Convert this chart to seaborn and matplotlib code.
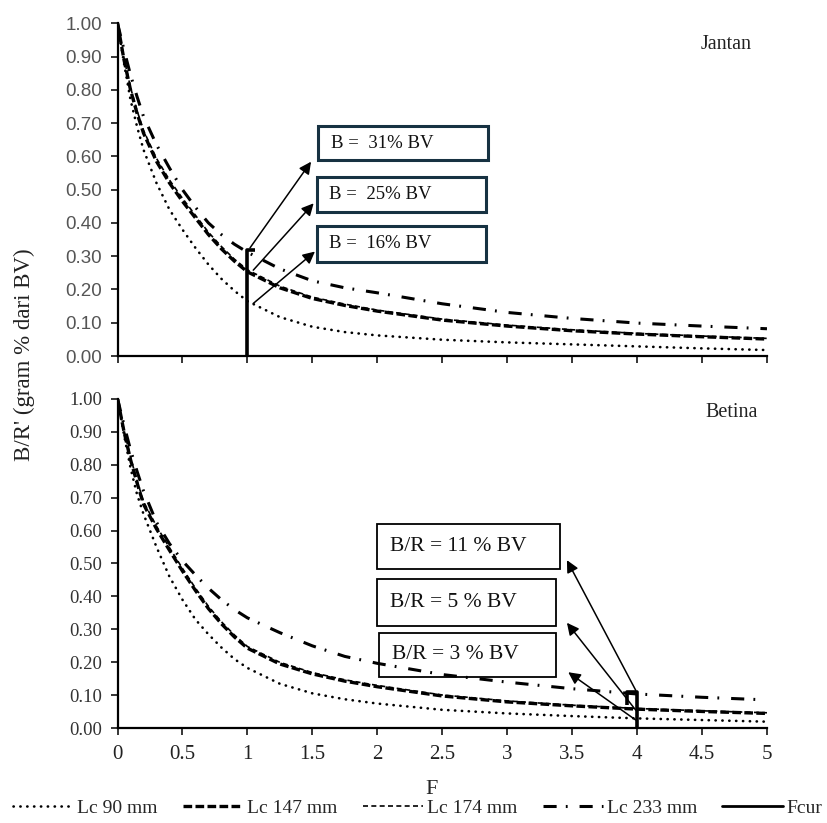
import matplotlib
matplotlib.use("Agg")
import matplotlib.pyplot as plt
import numpy as np
import pandas as pd
import seaborn as sns
from matplotlib.patches import Rectangle
from matplotlib.lines import Line2D

# ---------------- data ----------------
F = [0, 0.05, 0.1, 0.15, 0.2, 0.3, 0.4, 0.5, 0.6, 0.7, 0.8, 0.9, 1.0,
     1.25, 1.5, 1.75, 2, 2.5, 3, 3.5, 4, 4.5, 5]

jantan_lc90 = [1, .88, .77, .69, .62, .52, .44, .38, .325, .275, .232, .196, .165,
               .117, .088, .072, .062, .049, .041, .035, .029, .023, .018]
jantan_lc147 = [1, .89, .80, .73, .67, .585, .52, .465, .415, .365, .322, .285, .253,
                .205, .173, .152, .135, .108, .09, .076, .066, .058, .051]
jantan_lc174 = [1, .895, .807, .738, .678, .594, .529, .474, .423, .372, .329, .291, .259,
                .21, .177, .156, .138, .111, .093, .079, .068, .06, .053]
jantan_lc233 = [1, .92, .845, .78, .72, .635, .565, .50, .447, .40, .365, .336, .312,
                .262, .226, .205, .19, .157, .131, .113, .099, .09, .082]

betina_lc90 = [1, .89, .79, .71, .65, .55, .46, .39, .33, .285, .245, .21, .183,
               .135, .106, .088, .075, .056, .045, .037, .03, .025, .02]
betina_lc147 = [1, .90, .815, .745, .68, .605, .54, .477, .418, .363, .317, .277, .243,
                .195, .165, .143, .126, .098, .08, .068, .058, .051, .045]
betina_lc174 = [1, .905, .822, .752, .688, .613, .548, .485, .425, .37, .323, .283, .248,
                .2, .169, .147, .13, .101, .083, .07, .06, .053, .047]
betina_lc233 = [1, .92, .845, .78, .72, .625, .56, .508, .465, .425, .39, .36, .335,
                .29, .25, .218, .197, .163, .14, .12, .104, .094, .086]

series_names = ["Lc 90 mm", "Lc 147 mm", "Lc 174 mm", "Lc 233 mm"]

# Fcur marker paths (F, B/R)
fcur_jantan_x = [1.0, 1.0, 1.06]
fcur_jantan_y = [0.0, 0.32, 0.32]
fcur_betina_x = [3.92, 3.92, 4.0, 4.0]
fcur_betina_y = [0.07, 0.11, 0.11, 0.0]

# annotation labels
jantan_labels = ["B =  31% BV", "B =  25% BV", "B =  16% BV"]
betina_labels = ["B/R = 11 % BV", "B/R = 5 % BV", "B/R = 3 % BV"]
# arrow start (on curve) / end points
jantan_arrows = [((1.02, 0.325), (1.49, 0.584)),
                 ((1.045, 0.258), (1.51, 0.459)),
                 ((1.045, 0.158), (1.52, 0.314))]
betina_arrows = [((3.99, 0.115), (3.46, 0.51)),
                 ((3.99, 0.055), (3.46, 0.32)),
                 ((3.99, 0.025), (3.47, 0.17))]
# boxes (x0, x1, y0, y1) in data units
jantan_boxes = [(1.545, 2.853, 0.589, 0.691),
                (1.532, 2.840, 0.434, 0.539),
                (1.532, 2.840, 0.283, 0.391)]
betina_boxes = [(1.994, 3.404, 0.482, 0.619),
                (1.994, 3.373, 0.310, 0.452),
                (2.014, 3.373, 0.156, 0.290)]

xtick_vals = [0, 0.5, 1, 1.5, 2, 2.5, 3, 3.5, 4, 4.5, 5]
xtick_labels = ["0", "0.5", "1", "1.5", "2", "2.5", "3", "3.5", "4", "4.5", "5"]
ytick_vals = [0, .1, .2, .3, .4, .5, .6, .7, .8, .9, 1.0]
ytick_labels = ["%.2f" % v for v in ytick_vals]

# ---------------- style ----------------
sns.set_style("ticks")
plt.rcParams["font.family"] = ["Liberation Serif", "DejaVu Serif"]

styles = {
    "Lc 90 mm": dict(lw=1.9, linestyle=(0, (0.1, 2.5)), dash_capstyle="round"),
    "Lc 147 mm": dict(lw=2.4, linestyle=(0, (2.6, 1.0))),
    "Lc 174 mm": dict(lw=1.2, linestyle=(0, (3.0, 2.0))),
    "Lc 233 mm": dict(lw=2.2, linestyle=(0, (4.3, 3.0, 0.6, 3.9))),
}
draw_order = ["Lc 174 mm", "Lc 90 mm", "Lc 147 mm", "Lc 233 mm"]

fig = plt.figure(figsize=(8.27, 8.23), dpi=100)
ax1 = fig.add_axes([0.1421, 0.5674, 0.7853, 0.4043])
ax2 = fig.add_axes([0.1421, 0.1151, 0.7853, 0.4005])

df_j = pd.DataFrame({"F": F, "Lc 90 mm": jantan_lc90, "Lc 147 mm": jantan_lc147,
                     "Lc 174 mm": jantan_lc174, "Lc 233 mm": jantan_lc233})
df_b = pd.DataFrame({"F": F, "Lc 90 mm": betina_lc90, "Lc 147 mm": betina_lc147,
                     "Lc 174 mm": betina_lc174, "Lc 233 mm": betina_lc233})


def panel(ax, df, fx, fy, labels, arrows, boxes, box_color, box_lw, fs,
          name, name_pos, tickfont, tickcolor):
    for s in draw_order:
        sns.lineplot(data=df, x="F", y=s, ax=ax, color="black", **styles[s])
    ax.plot(fx, fy, color="black", lw=2.6, solid_capstyle="butt")
    for (x0, x1, y0, y1), lab in zip(boxes, labels):
        ax.add_patch(Rectangle((x0, y0), x1 - x0, y1 - y0, fill=False,
                               edgecolor=box_color, lw=box_lw, zorder=5))
        ax.text(x0 + 0.1, (y0 + y1) / 2, lab, fontsize=fs, va="center", ha="left",
                color="#111111", zorder=6)
    for (s, e) in arrows:
        ax.annotate("", xy=e, xytext=s,
                    arrowprops=dict(arrowstyle="-|>", color="black", lw=1.1,
                                    mutation_scale=18, shrinkA=0, shrinkB=0))
    ax.text(name_pos[0], name_pos[1], name, transform=ax.transAxes, ha="center",
            va="center", fontsize=14.5, color="#222222")
    ax.set_xlim(0, 5)
    ax.set_ylim(0, 1)
    ax.set_xlabel("")
    ax.set_ylabel("")
    ax.set_yticks(ytick_vals)
    ax.set_yticklabels(ytick_labels, fontsize=13.5, family=tickfont, color=tickcolor)
    ax.set_xticks(xtick_vals)
    for sp in ["top", "right"]:
        ax.spines[sp].set_visible(False)
    for sp in ["left", "bottom"]:
        ax.spines[sp].set_linewidth(1.6)
        ax.spines[sp].set_color("black")
    ax.tick_params(axis="both", direction="out", length=5, width=1.1, color="black", pad=6)
    ax.patch.set_alpha(0)


panel(ax1, df_j, fcur_jantan_x, fcur_jantan_y, jantan_labels, jantan_arrows,
      jantan_boxes, "#173242", 2.2, 13.5, "Jantan", (0.937, 0.935),
      "Liberation Sans", "#555555")
panel(ax2, df_b, fcur_betina_x, fcur_betina_y, betina_labels, betina_arrows,
      betina_boxes, "black", 1.3, 15.5, "Betina", (0.946, 0.957),
      "Liberation Serif", "#333333")

ax1.set_xticklabels([])
ax2.set_xticklabels(xtick_labels, fontsize=15, color="#222222")
ax2.tick_params(axis="x", pad=7)

fig.text(432 / 827, 1 - 790 / 823, "F", ha="center", va="center", fontsize=16)
fig.text(24 / 827, 1 - 355 / 823, "B/R' (gram % dari BV)", rotation=90,
         ha="center", va="center", fontsize=16.5, color="#222222")

handles = [Line2D([], [], color="black", **styles[s]) for s in series_names]
handles.append(Line2D([], [], color="black", lw=2.0))
fig.legend(handles, series_names + ["Fcur"], loc="center left",
           bbox_to_anchor=(13 / 827, 1 - 808 / 823), ncol=5, frameon=False,
           fontsize=14, handlelength=3.1, handletextpad=0.2, columnspacing=1.3,
           borderaxespad=0, borderpad=0)

fig.savefig("out.png", dpi=100)
